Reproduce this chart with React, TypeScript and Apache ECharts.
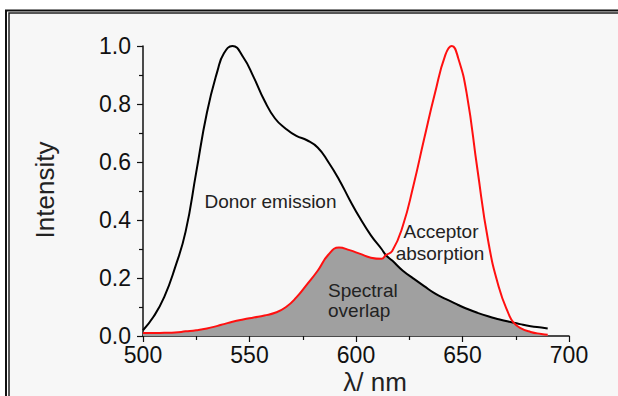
import React, { useEffect, useRef } from "react";
import * as echarts from "echarts";

const wavelengths = [500, 505, 510, 515, 520, 525, 530, 535, 538, 542, 547, 552, 557, 562, 567, 572, 577, 582, 587, 592, 597, 602, 607, 612, 614, 617, 622, 627, 632, 637, 642, 645, 648, 652, 657, 662, 667, 672, 674, 677, 682, 687, 690];
const donorEmission = [0.02, 0.067, 0.135, 0.235, 0.36, 0.565, 0.77, 0.915, 0.975, 1.0, 0.962, 0.892, 0.812, 0.75, 0.715, 0.69, 0.675, 0.65, 0.6, 0.54, 0.47, 0.405, 0.347, 0.3, 0.279, 0.26, 0.225, 0.198, 0.172, 0.147, 0.128, 0.118, 0.107, 0.094, 0.08, 0.068, 0.058, 0.049, 0.046, 0.041, 0.034, 0.029, 0.026];
const acceptorAbsorption = [0.01, 0.01, 0.011, 0.012, 0.016, 0.02, 0.026, 0.035, 0.041, 0.049, 0.057, 0.064, 0.071, 0.08, 0.099, 0.133, 0.178, 0.225, 0.28, 0.305, 0.296, 0.283, 0.27, 0.266, 0.279, 0.293, 0.38, 0.52, 0.68, 0.835, 0.97, 1.0, 0.958, 0.835, 0.575, 0.33, 0.17, 0.07, 0.046, 0.028, 0.014, 0.007, 0.004];

const xTitle = "λ/ nm";
const yTitle = "Intensity";
const labels = ["Donor emission", "Acceptor", "absorption", "Spectral", "overlap"];

const FONT = "'Liberation Sans', Arial, sans-serif";

export default function App() {
  const ref = useRef<HTMLDivElement>(null);
  useEffect(() => {
    if (!ref.current) return;
    const chart = echarts.init(ref.current, null, { renderer: "svg" });
    const donor = wavelengths.map((w, i) => [w, donorEmission[i]]);
    const acceptor = wavelengths.map((w, i) => [w, acceptorAbsorption[i]]);
    const overlap = wavelengths.map((w, i) => [w, Math.min(donorEmission[i], acceptorAbsorption[i])]);
    const txt = (text: string, x: number, y: number, align: string, size = 19, extra: any = {}) => ({
      type: "text",
      x,
      y,
      z: 100,
      ...extra,
      style: { text, fill: "#222", font: `${size}px ${FONT}`, align, verticalAlign: "middle" },
    });
    chart.setOption({
      animation: false,
      backgroundColor: "#ffffff",
      grid: { left: 143, right: 49, top: 46, bottom: 60 },
      xAxis: {
        type: "value",
        min: 500,
        max: 700,
        interval: 50,
        axisLine: { show: true, onZero: false, lineStyle: { color: "#111", width: 1.5 } },
        axisTick: { show: true, inside: false, length: 6, lineStyle: { color: "#111", width: 1.2 } },
        minorTick: { show: true, splitNumber: 2, length: 4, lineStyle: { color: "#111", width: 1.2 } },
        axisLabel: { color: "#111", fontSize: 23, fontFamily: FONT, margin: 7 },
        splitLine: { show: false },
      },
      yAxis: {
        type: "value",
        min: 0,
        max: 1,
        interval: 0.2,
        axisLine: { show: true, lineStyle: { color: "#111", width: 1.5 } },
        axisTick: { show: true, inside: false, length: 6, lineStyle: { color: "#111", width: 1.2 } },
        minorTick: { show: true, splitNumber: 2, length: 4, lineStyle: { color: "#111", width: 1.2 } },
        axisLabel: { color: "#111", fontSize: 23, fontFamily: FONT, margin: 12, formatter: (v: number) => v.toFixed(1) },
        splitLine: { show: false },
      },
      graphic: [
        { type: "rect", z: -10, silent: true, shape: { x: 9, y: 13, width: 700, height: 500 }, style: { fill: "#f7f7f7", stroke: "#222", lineWidth: 1.5 } },
        { type: "rect", z: 100, silent: true, shape: { x: 6, y: 10.5, width: 700, height: 500 }, style: { fill: "none", stroke: "#111", lineWidth: 2 } },
        txt(labels[0], 270.5, 201.5, "center"),
        txt(labels[1], 441, 231.5, "center"),
        txt(labels[2], 440, 253.5, "center"),
        txt(labels[3], 328, 290, "left"),
        txt(labels[4], 328, 310, "left"),
        txt(xTitle, 375, 382, "center", 26),
        txt(yTitle, 45, 190, "center", 26, { rotation: Math.PI / 2 }),
      ],
      series: [
        {
          type: "line",
          data: overlap,
          smooth: 0.5,
          showSymbol: false,
          lineStyle: { width: 0 },
          areaStyle: { color: "#a0a0a0", opacity: 1 },
          z: 1,
        },
        {
          type: "line",
          data: donor,
          smooth: 0.5,
          showSymbol: false,
          lineStyle: { color: "#000", width: 2 },
          z: 3,
        },
        {
          type: "line",
          data: acceptor,
          smooth: 0.5,
          showSymbol: false,
          lineStyle: { color: "#ff1010", width: 2 },
          z: 4,
        },
      ],
    });
    return () => chart.dispose();
  }, []);
  return <div ref={ref} style={{ position: "fixed", left: 0, top: 0, width: 618, height: 396 }} />;
}
